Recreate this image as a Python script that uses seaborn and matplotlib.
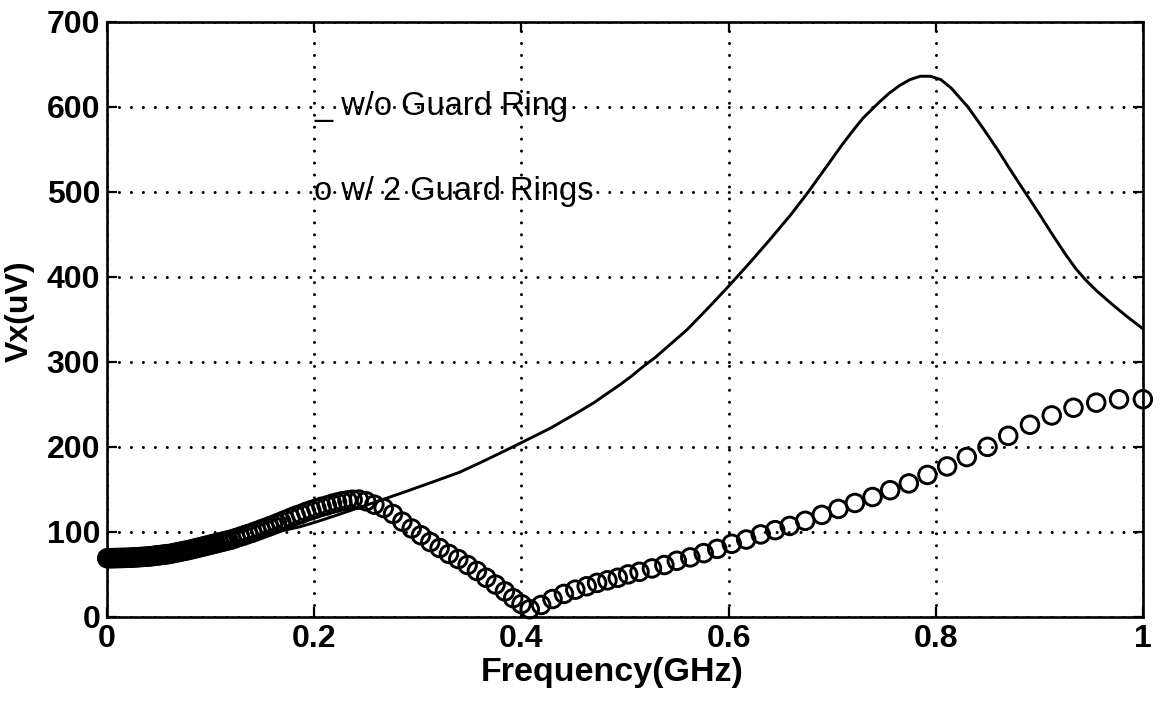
import matplotlib
matplotlib.use("Agg")
import matplotlib.pyplot as plt
import seaborn as sns
import pandas as pd

# ---- data ----
freq_line = [0.000, 0.030, 0.060, 0.090, 0.120, 0.150, 0.186, 0.200, 0.220, 0.254,
             0.285, 0.315, 0.340, 0.363, 0.385, 0.400, 0.428, 0.455, 0.470, 0.483,
             0.495, 0.506, 0.518, 0.529, 0.545, 0.560, 0.580, 0.600, 0.620, 0.640,
             0.660, 0.677, 0.690, 0.700, 0.710, 0.720, 0.730, 0.745, 0.755, 0.765,
             0.775, 0.785, 0.795, 0.805, 0.815, 0.831, 0.845, 0.859, 0.872, 0.886,
             0.900, 0.912, 0.925, 0.935, 0.945, 0.955, 0.970, 0.985, 1.000]
vx_no_ring = [69, 70, 74, 80, 88, 96, 106, 111, 119, 133,
              146, 159, 170, 183, 196, 205, 222, 241, 252, 263,
              273, 283, 295, 305, 322, 338, 363, 389, 416, 444,
              473, 500, 522, 539, 556, 572, 587, 605, 616, 625,
              632, 636, 636, 632, 622, 600, 576, 551, 526, 500,
              474, 451, 427, 410, 396, 384, 368, 353, 339]

freq_pts = [0.000, 0.002, 0.004, 0.006, 0.008, 0.010, 0.012, 0.014, 0.016, 0.018,
            0.020, 0.022, 0.024, 0.026, 0.028, 0.030, 0.032, 0.034, 0.036, 0.038,
            0.040, 0.042, 0.044, 0.046, 0.048, 0.050, 0.052, 0.054, 0.056, 0.058,
            0.060, 0.063, 0.066, 0.069, 0.072, 0.075, 0.078, 0.081, 0.084, 0.087,
            0.090, 0.093, 0.096, 0.099, 0.102, 0.105, 0.108, 0.111, 0.114, 0.117,
            0.120, 0.124, 0.128, 0.132, 0.136, 0.140, 0.144, 0.148, 0.152, 0.156,
            0.160, 0.164, 0.168, 0.172, 0.177, 0.182, 0.187, 0.192, 0.197, 0.202,
            0.207, 0.212, 0.217, 0.222, 0.227, 0.232, 0.237,
            0.243, 0.250, 0.258, 0.267, 0.276, 0.285, 0.294, 0.303, 0.312, 0.321,
            0.330, 0.339, 0.348, 0.357, 0.366, 0.375, 0.384, 0.392, 0.400, 0.408,
            0.419, 0.430, 0.441, 0.452, 0.463, 0.473, 0.483, 0.493, 0.503, 0.514,
            0.526, 0.538, 0.550, 0.563, 0.576, 0.589, 0.603, 0.617, 0.631, 0.645,
            0.659, 0.674, 0.690, 0.706, 0.722, 0.739, 0.756, 0.774, 0.792, 0.811,
            0.830, 0.850, 0.870, 0.891, 0.912, 0.933, 0.955, 0.977, 1.000]
vx_two_rings = [69.0, 69.0, 69.1, 69.1, 69.2, 69.2, 69.3, 69.3, 69.4, 69.4,
                69.5, 69.6, 69.8, 69.9, 70.1, 70.2, 70.4, 70.5, 70.7, 70.8,
                71.0, 71.3, 71.6, 71.9, 72.2, 72.5, 72.8, 73.1, 73.4, 73.7,
                74.0, 74.7, 75.5, 76.2, 77.0, 77.7, 78.5, 79.3, 80.2, 81.1,
                82.0, 82.9, 83.8, 84.7, 85.6, 86.5, 87.4, 88.3, 89.2, 90.1,
                91.0, 92.6, 94.2, 95.8, 97.4, 99.0, 100.8, 102.6, 104.4, 106.2,
                108.0, 110.0, 112.0, 114.0, 116.5, 119.0, 121.0, 123.5, 125.5, 127.5,
                129.5, 131.0, 133.0, 134.5, 136.0, 137.0, 137.8,
                138, 136, 132, 128, 121, 112, 104, 96, 88, 81,
                74, 68, 61, 54, 46, 38, 30, 22, 15, 9,
                14, 21, 27, 32, 36, 40, 43, 46, 50, 53,
                57, 61, 66, 70, 75, 80, 86, 91, 97, 102,
                107, 113, 120, 127, 134, 141, 149, 157, 167, 177,
                188, 200, 213, 226, 237, 246, 252, 256, 256]

x_ticks = [0, 0.2, 0.4, 0.6, 0.8, 1.0]
x_tick_labels = ["0", "0.2", "0.4", "0.6", "0.8", "1"]
y_ticks = [0, 100, 200, 300, 400, 500, 600, 700]
y_tick_labels = ["0", "100", "200", "300", "400", "500", "600", "700"]

line_df = pd.DataFrame({"freq": freq_line, "vx": vx_no_ring})
pts_df = pd.DataFrame({"freq": freq_pts, "vx": vx_two_rings})

sns.set_theme(style="white")
plt.rcParams["font.family"] = ["Liberation Sans", "DejaVu Sans"]
plt.rcParams["lines.scale_dashes"] = False
plt.rcParams["text.color"] = "black"
plt.rcParams["axes.labelcolor"] = "black"
plt.rcParams["xtick.color"] = "black"
plt.rcParams["ytick.color"] = "black"

fig = plt.figure(figsize=(11.65, 7.05), dpi=100)
ax = fig.add_axes([0.092, 0.125, 0.889, 0.844])

sns.lineplot(data=line_df, x="freq", y="vx", ax=ax, color="black", linewidth=2.1,
             sort=False, estimator=None)
sns.scatterplot(data=pts_df, x="freq", y="vx", ax=ax, marker="o", s=160,
                facecolor="none", edgecolor="black", linewidth=2.1, zorder=3,
                clip_on=False)

ax.set_xlim(0, 1)
ax.set_ylim(0, 700)
ax.set_xticks(x_ticks)
ax.set_xticklabels(x_tick_labels)
ax.set_yticks(y_ticks)
ax.set_yticklabels(y_tick_labels)

ax.grid(True, color="black", linewidth=2.2, linestyle=(0, (0.01, 8.6)),
        dash_capstyle="round")
ax.set_axisbelow(True)

for sp in ax.spines.values():
    sp.set_color("black")
    sp.set_linewidth(1.9)

ax.tick_params(axis="both", which="both", direction="in", length=7, width=1.6,
               top=True, right=True, bottom=True, left=True,
               labelsize=23, pad=5)
for lab in ax.get_xticklabels() + ax.get_yticklabels():
    lab.set_fontweight("bold")

ax.set_xlabel("Frequency(GHz)", fontsize=24.5, fontweight="bold")
ax.set_ylabel("Vx(uV)", fontsize=23, fontweight="bold")
ax.xaxis.set_label_coords(0.488, -0.068)
ax.yaxis.set_label_coords(-0.07, 0.514)

ax.text(0.2, 600, "_ w/o Guard Ring", fontsize=23.5, va="center", ha="left")
ax.text(0.2, 500, "o w/ 2 Guard Rings", fontsize=23.5, va="center", ha="left")

fig.savefig("out.png", dpi=100)
